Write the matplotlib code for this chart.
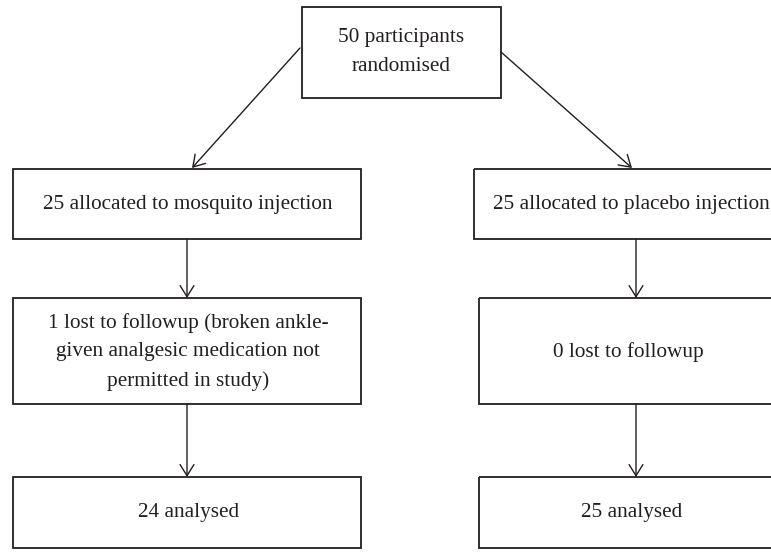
import matplotlib
matplotlib.use("Agg")
import matplotlib.pyplot as plt
from matplotlib.patches import Rectangle, FancyArrowPatch

# ---- content ----
labels = [
    "50 participants\nrandomised",
    "25 allocated to mosquito injection",
    "25 allocated to placebo injection",
    "1 lost to followup (broken ankle-\ngiven analgesic medication not\npermitted in study)",
    "0 lost to followup",
    "24 analysed",
    "25 analysed",
]
# box geometry (pixel layout): x0, y0, x1, y1
boxes = [
    (302, 7, 501, 98),
    (13, 169, 361, 239),
    (474, 169, 790, 239),
    (13, 298, 361, 404),
    (479, 298, 790, 404),
    (13, 477, 361, 548),
    (479, 477, 790, 548),
]
text_centers = [(401, 52), (188, 205), (631, 205), (188, 352), (628, 352), (189, 513), (632, 513)]
arrows = [
    ((300, 48), (192, 168)),
    ((501, 52), (632, 168)),
    ((187, 239), (187, 298)),
    ((636, 239), (636, 298)),
    ((187, 404), (187, 477)),
    ((636, 404), (636, 477)),
]

W, H = 771, 554
fig = plt.figure(figsize=(W / 100, H / 100), dpi=100)
ax = fig.add_axes([0, 0, 1, 1])
ax.set_xlim(0, W)
ax.set_ylim(H, 0)
ax.axis("off")

edge = "#231f20"
for (x0, y0, x1, y1) in boxes:
    ax.add_patch(Rectangle((x0, y0), x1 - x0, y1 - y0, fill=False,
                           edgecolor=edge, linewidth=1.3))

for lab, (cx, cy) in zip(labels, text_centers):
    ax.text(cx, cy, lab, ha="center", va="center", fontsize=15.3,
            family="Liberation Serif", color=edge, linespacing=1.7)

for (p0, p1) in arrows:
    ax.add_patch(FancyArrowPatch(p0, p1, arrowstyle="->,head_length=8,head_width=5",
                                 mutation_scale=1, color=edge, linewidth=1.0,
                                 shrinkA=0, shrinkB=0))

fig.savefig("out.png", dpi=100)
